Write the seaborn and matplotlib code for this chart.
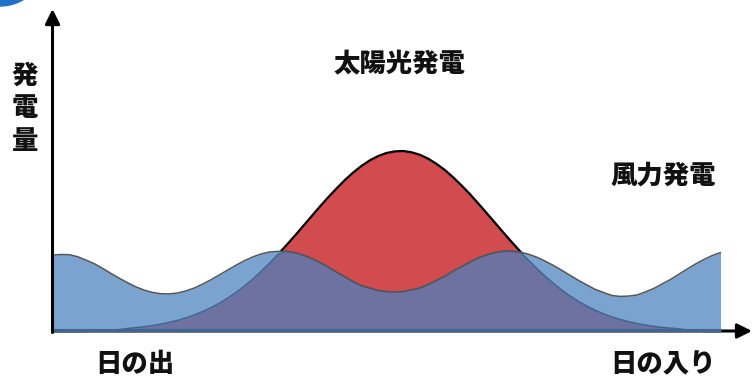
import numpy as np
import pandas as pd
import matplotlib
matplotlib.use("Agg")
import matplotlib.pyplot as plt
from matplotlib.patches import Ellipse
import seaborn as sns

# ---- data ----
time = [0, 1.25, 2.5, 3.75, 5, 6.25, 7.5, 8.75, 10, 11.25,
        12.5, 13.75, 15, 16.25, 17.5, 18.75, 20, 21.25, 22.5, 23.75,
        25, 26.25, 27.5, 28.75, 30, 31.25, 32.5, 33.75, 35, 36.25,
        37.5, 38.75, 40, 41.25, 42.5, 43.75, 45, 46.25, 47.5, 48.75,
        50, 51.25, 52.5, 53.75, 55, 56.25, 57.5, 58.75, 60, 61.25,
        62.5, 63.75, 65, 66.25, 67.5, 68.75, 70, 71.25, 72.5, 73.75,
        75, 76.25, 77.5, 78.75, 80, 81.25, 82.5, 83.75, 85, 86.25,
        87.5, 88.75, 90, 91.25, 92.5, 93.75, 95, 96.25, 97.5, 98.75, 100]
solar = [0.0, 0.0, 0.0, 0.0, 0.0, 0.1, 0.3, 0.5, 0.8, 1.4,
         1.9, 2.4, 3.0, 3.8, 4.8, 5.9, 7.3, 8.9, 10.8, 13.0,
         15.5, 18.3, 21.5, 25.0, 28.9, 33.2, 37.7, 42.5, 47.6, 52.8,
         58.2, 63.6, 69.0, 74.2, 79.1, 83.8, 88.0, 91.7, 94.8, 97.2,
         98.9, 99.8, 100.0, 99.3, 97.9, 95.7, 92.8, 89.4, 85.3, 80.8,
         76.0, 70.8, 65.5, 60.1, 54.7, 49.4, 44.3, 39.4, 34.7, 30.4,
         26.4, 22.7, 19.4, 16.4, 13.8, 11.5, 9.5, 7.8, 6.4, 5.2,
         4.1, 3.3, 2.6, 2.0, 1.6, 1.2, 0.6, 0.3, 0.0, 0.0, 0.0]
wind = [42.2, 42.5, 42.4, 41.3, 39.4, 37.4, 34.8, 32.0, 29.3, 26.8,
        24.5, 22.7, 21.4, 20.7, 20.6, 21.1, 22.3, 23.9, 26.1, 28.5,
        31.2, 33.9, 36.6, 39.1, 41.2, 42.8, 43.9, 44.2, 44.3, 43.5,
        42.2, 40.4, 38.1, 35.6, 32.8, 30.1, 27.5, 25.2, 23.8, 22.5,
        21.9, 21.7, 21.9, 22.8, 23.9, 25.8, 28.1, 30.4, 33.3, 35.8,
        38.3, 40.6, 42.3, 43.6, 44.3, 44.4, 43.8, 42.7, 41.0, 38.8,
        36.4, 33.7, 30.9, 28.1, 25.6, 23.1, 21.4, 19.7, 19.2, 19.4,
        20.0, 21.7, 23.6, 26.1, 28.6, 31.5, 34.4, 37.2, 39.7, 41.9, 43.6]
labels = {"y": "発\n電\n量", "solar": "太陽光発電", "wind": "風力発電",
          "start": "日の出", "end": "日の入り"}

df = pd.DataFrame({"time": time, "solar": solar, "wind": wind})
df["overlap"] = np.minimum(df["solar"], df["wind"])

sns.set_theme(style="white")
plt.rcParams["font.family"] = ["Noto Sans CJK JP", "DejaVu Sans"]

W, H = 753, 379
fig = plt.figure(figsize=(W / 100, H / 100), dpi=100)
ax = fig.add_axes([0, 0, 1, 1])
ax.axis("off")

x0px, sx = 52.5, 6.68       # px of x=0, px per unit
base_from_bottom, sy = 48, 1.8
ax.set_xlim(-x0px / sx, (W - x0px) / sx)
ax.set_ylim(-base_from_bottom / sy, (H - base_from_bottom) / sy)

RED = "#d24b4e"
BLUE = "#7aa3cf"
PURPLE = "#6e72a0"
DARKBLUE = "#3f6592"

# solar (red) with black outline
ax.fill_between(df["time"], 0, df["solar"], color=RED, lw=0, zorder=1)
sns.lineplot(data=df, x="time", y="solar", color="black", lw=1.6, ax=ax, zorder=2)
# wind (blue)
ax.fill_between(df["time"], 0, df["wind"], color=BLUE, lw=0, zorder=3)
# overlap (purple)
ax.fill_between(df["time"], 0, df["overlap"], color=PURPLE, lw=0, zorder=4)
sns.lineplot(data=df, x="time", y="overlap", color=DARKBLUE, lw=1.1, ax=ax, zorder=5)
sns.lineplot(data=df, x="time", y="wind", color="#555555", lw=1.1, ax=ax, zorder=6)

# axes arrows
arrow = dict(arrowstyle="-|>", lw=2.2, color="black", mutation_scale=22,
             shrinkA=0, shrinkB=0)
ax.annotate("", xy=(0, (H - base_from_bottom - 9) / sy), xytext=(0, -1.5 / sy),
            arrowprops=arrow, annotation_clip=False, zorder=8)
ax.annotate("", xy=((752 - x0px) / sx, 0), xytext=(0, 0),
            arrowprops=arrow, annotation_clip=False, zorder=7)
ax.plot([0, 100], [0.3, 0.3], color=DARKBLUE, lw=2.2, zorder=7.5,
        solid_capstyle="butt")

ax.set_xlabel("")
ax.set_ylabel("")

def ftext(xp, yp, s, **kw):
    fig.text(xp / W, 1 - yp / H, s, ha="center", va="center",
             fontsize=19, fontweight="heavy", color="#111111", **kw)

ftext(25, 108, labels["y"], linespacing=1.2)
ftext(400, 64, labels["solar"])
ftext(663, 175, labels["wind"])
ftext(135, 364, labels["start"])
ftext(663, 364, labels["end"])

# decorative blue badge at top-left
fig.patches.append(Ellipse((0, 1 + 40 / H), 92 / W, 92 / H,
                           transform=fig.transFigure, color="#1f73c6",
                           zorder=10))

fig.savefig("out.png", dpi=100)
